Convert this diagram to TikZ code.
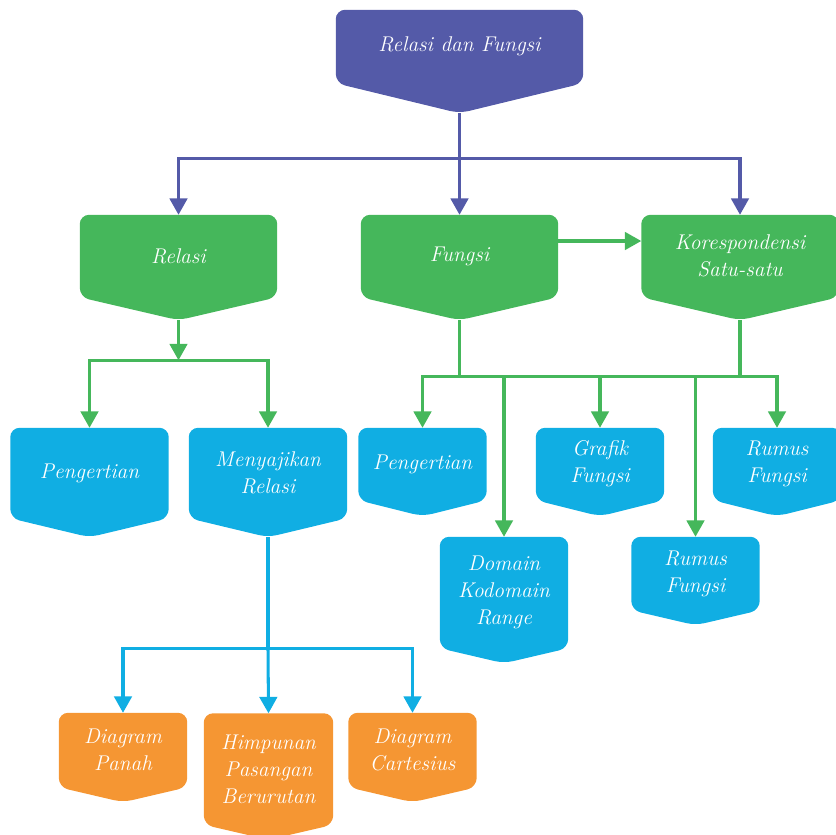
\documentclass[tikz,border=0pt]{standalone}
\usepackage{xcolor}
\usepackage{tikz}
\usetikzlibrary{arrows.meta, positioning, calc, backgrounds}
\definecolor{mypurple}{RGB}{84,90,168}
\definecolor{mygreen}{RGB}{69,183,91}
\definecolor{myblue}{RGB}{16,174,227}
\definecolor{myorange}{RGB}{245,150,51}
\tikzset{
  box/.style={rectangle, inner sep=0pt, align=center, text=white,
    font=\fontsize{18.2}{23}\selectfont\itshape},
  topbox/.style={box, minimum width=7.41cm, minimum height=2.19cm},
  greenbox/.style={box, minimum width=5.91cm, minimum height=2.46cm},
  bigbox/.style={box, minimum width=4.74cm, minimum height=2.7cm},
  smallbox/.style={box, minimum width=3.84cm, minimum height=2.16cm},
  tallbox/.style={box, minimum width=3.84cm, minimum height=3.33cm},
  arrow/.style={-{Triangle[length=14pt,width=15pt]}, line width=2.6pt},
  line/.style={line width=2.6pt}
}
\newcommand{\bannershape}[3]{%
  \fill[#3] ($(#1.south)+(0,#2)$) [rounded corners=8pt] -- (#1.south west)
    -- (#1.north west) -- (#1.north east) -- (#1.south east) -- cycle;
  \coordinate (#1-tip) at ($(#1.south)+(0,#2)$);}

\begin{document}
\begin{tikzpicture}[x=0.03cm, y=-0.03cm]
  \useasboundingbox (0,0) rectangle (836,834);

  \node[topbox] (top) at (459.5,46.5) {Relasi dan Fungsi};
  \node[greenbox] (relasi) at (178.5,256) {Relasi};
  \node[greenbox] (fungsi) at (459.5,256) {Fungsi};
  \node[greenbox] (kores) at (740,256) {Korespondensi\\Satu-satu};
  \node[bigbox] (pengrel) at (89.5,473) {Pengertian};
  \node[bigbox] (sajirel) at (268,473) {Menyajikan\\Relasi};
  \node[smallbox] (pengfun) at (422.5,464) {Pengertian};
  \node[smallbox] (grafik) at (600,464) {Grafik\\Fungsi};
  \node[smallbox] (rumusa) at (777,464) {Rumus\\Fungsi};
  \node[tallbox] (domain) at (504,592.5) {Domain\\Kodomain\\Range};
  \node[smallbox, minimum height=2.19cm] (rumusb) at (695.5,573.5) {Rumus\\Fungsi};
  \node[smallbox, minimum height=2.22cm] (panah) at (123,750) {Diagram\\Panah};
  \node[tallbox, minimum width=3.87cm] (himpunan) at (268.5,769) {Himpunan\\Pasangan\\Berurutan};
  \node[smallbox, minimum height=2.22cm] (cartes) at (412.5,750) {Diagram\\Cartesius};

  \begin{scope}[on background layer]
    \bannershape{top}{30}{mypurple}
    \bannershape{relasi}{23}{mygreen}
    \bannershape{fungsi}{23}{mygreen}
    \bannershape{kores}{23}{mygreen}
    \bannershape{pengrel}{19}{myblue}
    \bannershape{sajirel}{19}{myblue}
    \bannershape{pengfun}{16}{myblue}
    \bannershape{grafik}{16}{myblue}
    \bannershape{rumusa}{16}{myblue}
    \bannershape{domain}{15}{myblue}
    \bannershape{rumusb}{15}{myblue}
    \bannershape{panah}{15}{myorange}
    \bannershape{himpunan}{15}{myorange}
    \bannershape{cartes}{15}{myorange}
  \end{scope}

  \draw[line, mypurple] (top-tip) -- ++(0,45) coordinate (topj);
  \draw[arrow, mypurple] (topj) -| (relasi.north);
  \draw[arrow, mypurple] (topj) -- (fungsi.north);
  \draw[arrow, mypurple] (topj) -| (kores.north);

  \draw[arrow, mygreen] ([yshift=0.45cm]fungsi.east) -- ([yshift=0.45cm]kores.west);

  \draw[arrow, mygreen] (relasi-tip) -- ++(0,40) coordinate (relj);
  \draw[arrow, mygreen] (relj) -| (pengrel.north);
  \draw[arrow, mygreen] (relj) -| (sajirel.north);

  \draw[line, mygreen] (fungsi-tip) -- ++(0,56) coordinate (funj);
  \draw[line, mygreen] (kores-tip) -- (kores-tip |- funj);
  \draw[arrow, mygreen] (funj) -| (pengfun.north);
  \draw[arrow, mygreen] (funj) -| (domain.north);
  \draw[arrow, mygreen] (funj) -| (grafik.north);
  \draw[arrow, mygreen] (funj) -| (rumusb.north);
  \draw[arrow, mygreen] (funj) -| (rumusa.north);

  \draw[line, myblue] (sajirel-tip) -- ++(0,111) coordinate (sajj);
  \draw[arrow, myblue] (sajj) -| (panah.north);
  \draw[arrow, myblue] (sajj) -- (himpunan.north);
  \draw[arrow, myblue] (sajj) -| (cartes.north);
\end{tikzpicture}
\end{document}
